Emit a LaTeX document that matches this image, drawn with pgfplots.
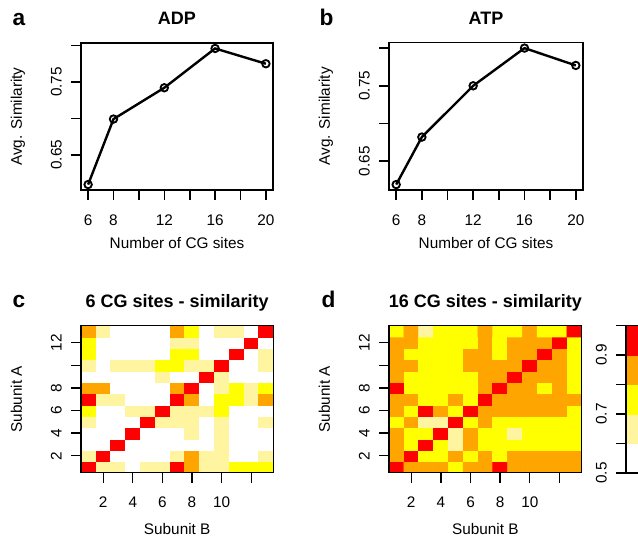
\documentclass[border=0pt]{standalone}
\usepackage{fontspec}
\setmainfont{Liberation Sans}
\usepackage{pgfplots}
\pgfplotsset{compat=1.18}

\definecolor{heatlt}{RGB}{255,244,160}
\definecolor{heatyl}{RGB}{255,255,0}
\definecolor{heator}{RGB}{255,165,0}
\definecolor{heatrd}{RGB}{255,0,0}

\newcommand{\lblfont}{\fontsize{11.5}{13}\selectfont}

\pgfplotsset{
  rpanel/.style={
    scale only axis,
    axis line style={line width=#1},
    every tick/.style={black, line width=#1},
    tick pos=left,
    tick align=outside,
    major tick length=7.5pt,
    /pgf/number format/assume math mode=true,
    xticklabel style={font=\lblfont, anchor=base, yshift=-18.75pt},
    yticklabel style={font=\lblfont, xshift=-7pt, rotate=90, anchor=base},
    every axis x label/.style={at={(axis description cs:0.5,0)}, anchor=base, yshift=-44pt, font=\lblfont},
    every axis y label/.style={at={(axis description cs:0,0.5)}, xshift=-44.3pt, rotate=90, anchor=base, font=\lblfont},
    every axis title/.style={at={(axis description cs:0.5,1)}, anchor=base, yshift=14pt,
      font=\fontsize{13.5}{15}\selectfont\bfseries},
  },
  simcolors/.style={
    colormap={simheat}{color=(white) color=(heatlt) color=(heatyl) color=(heator) color=(heatrd)},
    colormap access=piecewise constant,
    point meta min=0.5, point meta max=1.0,
  },
  heat/.style={
    rpanel=1pt, simcolors,
    width=144.3pt, height=110.3pt,
    xmin=0.5, xmax=13.5, ymin=0.5, ymax=13.5,
    xtick={2,4,...,12}, xticklabels={2,4,6,8,10,},
    ytick={2,4,...,12}, yticklabels={2,4,6,8,,12},
    every axis x label/.style={at={(axis description cs:0.5,0)}, anchor=base, yshift=-46.5pt, font=\lblfont},
    axis on top,
    xlabel={Subunit B}, ylabel={Subunit A},
  },
}

\begin{document}
\begin{tikzpicture}

% a: ADP
\begin{axis}[rpanel=1.2pt, at={(60.75pt,260.25pt)}, anchor=south west,
  width=144pt, height=110.25pt,
  xmin=5.44, xmax=20.56, ymin=0.6015, ymax=0.8035,
  xtick={6,8,...,20}, xticklabels={6,8,,12,,16,,20},
  ytick={0.65,0.70,0.75,0.80}, yticklabels={0.65,,0.75,},
  title={ADP}, xlabel={Number of CG sites}, ylabel={Avg. Similarity}]
\addplot[black, line width=1.8pt, mark=o, mark size=2.8pt,
  mark options={line width=1.4pt}] coordinates {
  (6,0.609) (8,0.699) (12,0.742) (16,0.796) (20,0.775)
};
\end{axis}

% b: ATP
\begin{axis}[rpanel=1.2pt, at={(291.75pt,260.25pt)}, anchor=south west,
  width=145.5pt, height=110.5pt,
  xmin=5.44, xmax=20.56, ymin=0.6118, ymax=0.8072,
  xtick={6,8,...,20}, xticklabels={6,8,,12,,16,,20},
  ytick={0.65,0.70,0.75,0.80}, yticklabels={0.65,,0.75,},
  title={ATP}, xlabel={Number of CG sites}, ylabel={Avg. Similarity}]
\addplot[black, line width=1.8pt, mark=o, mark size=2.8pt,
  mark options={line width=1.4pt}] coordinates {
  (6,0.619) (8,0.682) (12,0.750) (16,0.800) (20,0.777)
};
\end{axis}

% c: 6 CG sites (rows = subunit A from 1 up, columns = subunit B 1..13)
\begin{axis}[heat, at={(60.75pt,48.2pt)}, anchor=south west,
  title={6 CG sites - similarity}]
\addplot[matrix plot*, mesh/cols=13, mesh/rows=13, point meta=explicit] coordinates {
(1,1)[.95] (2,1)[.65] (3,1)[.65] (4,1)[.55] (5,1)[.65] (6,1)[.65] (7,1)[.95] (8,1)[.85] (9,1)[.65] (10,1)[.65] (11,1)[.75] (12,1)[.75] (13,1)[.75]
(1,2)[.65] (2,2)[.95] (3,2)[.55] (4,2)[.55] (5,2)[.55] (6,2)[.55] (7,2)[.65] (8,2)[.85] (9,2)[.65] (10,2)[.65] (11,2)[.55] (12,2)[.55] (13,2)[.65]
(1,3)[.55] (2,3)[.55] (3,3)[.95] (4,3)[.55] (5,3)[.55] (6,3)[.55] (7,3)[.55] (8,3)[.55] (9,3)[.55] (10,3)[.65] (11,3)[.55] (12,3)[.55] (13,3)[.55]
(1,4)[.55] (2,4)[.55] (3,4)[.55] (4,4)[.95] (5,4)[.55] (6,4)[.55] (7,4)[.55] (8,4)[.65] (9,4)[.55] (10,4)[.65] (11,4)[.55] (12,4)[.55] (13,4)[.55]
(1,5)[.65] (2,5)[.55] (3,5)[.55] (4,5)[.55] (5,5)[.95] (6,5)[.65] (7,5)[.65] (8,5)[.65] (9,5)[.55] (10,5)[.65] (11,5)[.55] (12,5)[.55] (13,5)[.65]
(1,6)[.75] (2,6)[.55] (3,6)[.55] (4,6)[.65] (5,6)[.65] (6,6)[.95] (7,6)[.65] (8,6)[.65] (9,6)[.65] (10,6)[.75] (11,6)[.55] (12,6)[.55] (13,6)[.55]
(1,7)[.95] (2,7)[.65] (3,7)[.65] (4,7)[.55] (5,7)[.55] (6,7)[.55] (7,7)[.95] (8,7)[.85] (9,7)[.55] (10,7)[.75] (11,7)[.75] (12,7)[.65] (13,7)[.85]
(1,8)[.85] (2,8)[.85] (3,8)[.55] (4,8)[.55] (5,8)[.55] (6,8)[.55] (7,8)[.85] (8,8)[.95] (9,8)[.55] (10,8)[.65] (11,8)[.75] (12,8)[.65] (13,8)[.75]
(1,9)[.55] (2,9)[.55] (3,9)[.55] (4,9)[.55] (5,9)[.55] (6,9)[.65] (7,9)[.55] (8,9)[.55] (9,9)[.95] (10,9)[.65] (11,9)[.55] (12,9)[.55] (13,9)[.55]
(1,10)[.65] (2,10)[.55] (3,10)[.65] (4,10)[.65] (5,10)[.65] (6,10)[.75] (7,10)[.75] (8,10)[.65] (9,10)[.65] (10,10)[.95] (11,10)[.55] (12,10)[.55] (13,10)[.65]
(1,11)[.75] (2,11)[.55] (3,11)[.55] (4,11)[.55] (5,11)[.55] (6,11)[.55] (7,11)[.75] (8,11)[.75] (9,11)[.55] (10,11)[.55] (11,11)[.95] (12,11)[.55] (13,11)[.65]
(1,12)[.75] (2,12)[.55] (3,12)[.55] (4,12)[.55] (5,12)[.55] (6,12)[.55] (7,12)[.65] (8,12)[.65] (9,12)[.55] (10,12)[.55] (11,12)[.55] (12,12)[.95] (13,12)[.55]
(1,13)[.85] (2,13)[.65] (3,13)[.55] (4,13)[.55] (5,13)[.55] (6,13)[.55] (7,13)[.85] (8,13)[.75] (9,13)[.55] (10,13)[.65] (11,13)[.65] (12,13)[.55] (13,13)[.95]
};
\end{axis}

% d: 16 CG sites
\begin{axis}[heat, at={(291.75pt,48.2pt)}, anchor=south west,
  width=144.5pt, title={16 CG sites - similarity}]
\addplot[matrix plot*, mesh/cols=13, mesh/rows=13, point meta=explicit] coordinates {
(1,1)[.95] (2,1)[.85] (3,1)[.85] (4,1)[.85] (5,1)[.75] (6,1)[.85] (7,1)[.85] (8,1)[.95] (9,1)[.85] (10,1)[.85] (11,1)[.85] (12,1)[.85] (13,1)[.85]
(1,2)[.85] (2,2)[.95] (3,2)[.75] (4,2)[.75] (5,2)[.85] (6,2)[.75] (7,2)[.85] (8,2)[.75] (9,2)[.85] (10,2)[.85] (11,2)[.85] (12,2)[.85] (13,2)[.85]
(1,3)[.85] (2,3)[.75] (3,3)[.95] (4,3)[.75] (5,3)[.65] (6,3)[.85] (7,3)[.75] (8,3)[.75] (9,3)[.75] (10,3)[.75] (11,3)[.75] (12,3)[.75] (13,3)[.75]
(1,4)[.85] (2,4)[.75] (3,4)[.75] (4,4)[.95] (5,4)[.65] (6,4)[.85] (7,4)[.75] (8,4)[.75] (9,4)[.65] (10,4)[.75] (11,4)[.75] (12,4)[.75] (13,4)[.75]
(1,5)[.75] (2,5)[.85] (3,5)[.65] (4,5)[.65] (5,5)[.95] (6,5)[.75] (7,5)[.85] (8,5)[.75] (9,5)[.75] (10,5)[.75] (11,5)[.75] (12,5)[.75] (13,5)[.75]
(1,6)[.85] (2,6)[.75] (3,6)[.95] (4,6)[.85] (5,6)[.75] (6,6)[.95] (7,6)[.85] (8,6)[.85] (9,6)[.85] (10,6)[.85] (11,6)[.85] (12,6)[.85] (13,6)[.75]
(1,7)[.85] (2,7)[.85] (3,7)[.75] (4,7)[.75] (5,7)[.85] (6,7)[.75] (7,7)[.95] (8,7)[.85] (9,7)[.85] (10,7)[.85] (11,7)[.85] (12,7)[.85] (13,7)[.85]
(1,8)[.95] (2,8)[.75] (3,8)[.75] (4,8)[.75] (5,8)[.75] (6,8)[.75] (7,8)[.85] (8,8)[.95] (9,8)[.85] (10,8)[.85] (11,8)[.75] (12,8)[.85] (13,8)[.75]
(1,9)[.85] (2,9)[.75] (3,9)[.75] (4,9)[.75] (5,9)[.75] (6,9)[.75] (7,9)[.85] (8,9)[.85] (9,9)[.95] (10,9)[.85] (11,9)[.85] (12,9)[.85] (13,9)[.75]
(1,10)[.85] (2,10)[.85] (3,10)[.75] (4,10)[.75] (5,10)[.75] (6,10)[.85] (7,10)[.85] (8,10)[.85] (9,10)[.85] (10,10)[.95] (11,10)[.85] (12,10)[.85] (13,10)[.75]
(1,11)[.85] (2,11)[.75] (3,11)[.75] (4,11)[.75] (5,11)[.75] (6,11)[.85] (7,11)[.85] (8,11)[.75] (9,11)[.85] (10,11)[.85] (11,11)[.95] (12,11)[.85] (13,11)[.75]
(1,12)[.85] (2,12)[.85] (3,12)[.75] (4,12)[.75] (5,12)[.75] (6,12)[.75] (7,12)[.85] (8,12)[.75] (9,12)[.85] (10,12)[.85] (11,12)[.85] (12,12)[.95] (13,12)[.75]
(1,13)[.75] (2,13)[.85] (3,13)[.65] (4,13)[.75] (5,13)[.75] (6,13)[.75] (7,13)[.85] (8,13)[.75] (9,13)[.75] (10,13)[.85] (11,13)[.75] (12,13)[.75] (13,13)[.95]
};
\end{axis}

% colour key, cut by the right edge as in the original
\begin{axis}[rpanel=1pt, simcolors, at={(469.5pt,48pt)}, anchor=south west,
  width=24pt, height=110.6pt,
  xmin=0.5, xmax=2.5, ymin=0.5, ymax=1.0,
  xtick=\empty, ytick={0.5,0.6,...,1.0}, yticklabels={0.5,,0.7,,0.9,},
  axis on top]
\addplot[matrix plot*, mesh/cols=2, mesh/rows=5, point meta=explicit] coordinates {
(1,0.55)[.55] (2,0.55)[.55]
(1,0.65)[.65] (2,0.65)[.65]
(1,0.75)[.75] (2,0.75)[.75]
(1,0.85)[.85] (2,0.85)[.85]
(1,0.95)[.95] (2,0.95)[.95]
};
\end{axis}

% panel letters
\node[anchor=base west, font=\fontsize{17}{19}\selectfont\bfseries] at (6pt,384pt) {a};
\node[anchor=base west, font=\fontsize{17}{19}\selectfont\bfseries] at (236.25pt,384pt) {b};
\node[anchor=base west, font=\fontsize{17}{19}\selectfont\bfseries] at (6pt,172.5pt) {c};
\node[anchor=base west, font=\fontsize{17}{19}\selectfont\bfseries] at (237.75pt,172.5pt) {d};

\pgfresetboundingbox
\useasboundingbox (0pt,0pt) rectangle (478.5pt,402.75pt);
\end{tikzpicture}
\end{document}
